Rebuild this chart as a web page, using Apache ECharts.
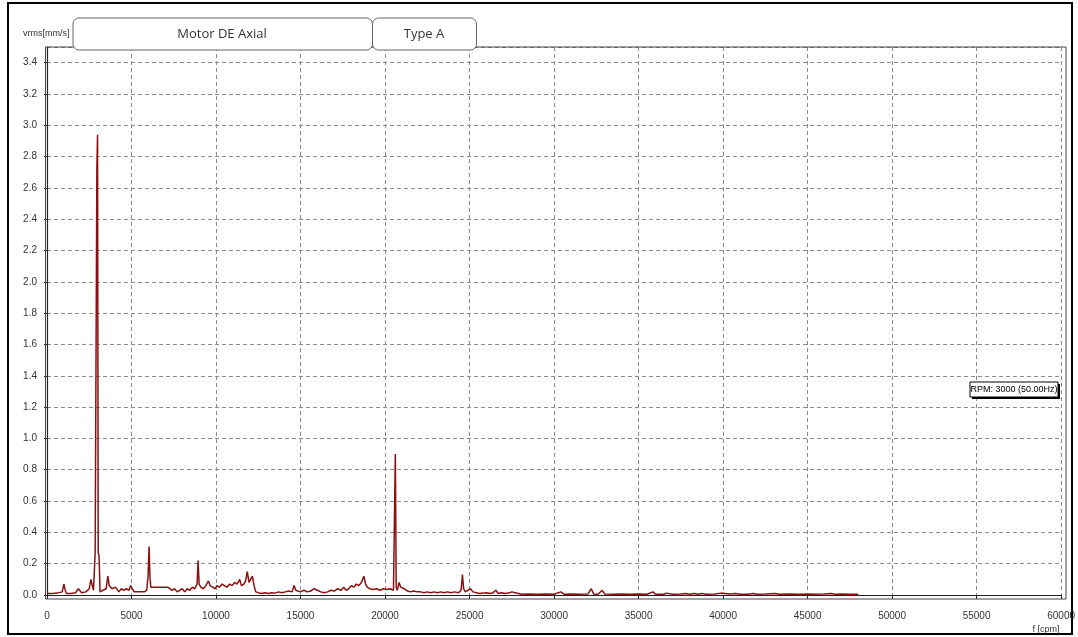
<!DOCTYPE html>
<html>
<head>
<meta charset="utf-8">
<script src="https://cdn.jsdelivr.net/npm/echarts@6/dist/echarts.min.js"></script>
<style>
html,body{margin:0;padding:0;background:#fff;}
#c{width:1078px;height:637px;}
</style>
</head>
<body>
<div id="c"></div>
<script>
// Frequency (cpm) and velocity rms (mm/s)
const freqCpm = [
0,300,600,900,1000,1080,1150,1400,1700,1850,1950,2050,2300,2500,2600,2680,2750,2850,2900,2950,2990,3030,3080,3140,
3300,3500,3600,3680,3750,3850,3950,4050,4150,4250,4400,4550,4700,4850,4950,5050,5150,5350,5550,5750,5900,5980,6040,6090,6140,
6250,6350,6450,6550,6650,6750,6850,6950,7050,7150,7250,7400,7550,7700,7850,8000,8150,8300,8450,8600,8750,8880,8940,9000,
9100,9250,9400,9550,9650,9800,9950,10050,10200,10350,10500,10650,10800,10950,11100,11250,11400,11500,11650,11750,11850,11950,
12050,12150,12250,12350,12500,12700,12900,13100,13300,13500,13700,13900,14100,14300,14500,14620,14720,14850,15000,15200,15400,
15600,15800,16000,16200,16400,16600,16800,17000,17200,17400,17550,17700,17850,18000,18150,18300,18450,18600,18750,18850,18950,
19100,19300,19500,19700,19900,20100,20300,20500,20560,20610,20660,20730,20830,20930,21030,21130,21230,21330,21500,21700,21900,
22100,22300,22500,22700,22900,23100,23300,23500,23700,23900,24100,24350,24500,24580,24650,24750,24900,25050,25200,25400,25600,
25800,26000,26200,26400,26550,26700,26900,27100,27300,27500,27700,27900,28100,28500,29000,29500,30000,30400,30600,31000,31500,
32000,32200,32350,32600,32850,33000,33500,34000,34500,35000,35500,35850,36000,36500,36650,37000,37500,37800,38000,38300,38500,
38750,39000,39500,39900,40100,40400,40750,41000,41500,41800,42000,42500,43100,43300,44000,44500,45000,45500,46000,46400,46600,
47000,47500,48000
];
const ampMms = [
0.010,0.010,0.012,0.020,0.070,0.030,0.010,0.010,0.015,0.040,0.040,0.015,0.020,0.040,0.100,0.060,0.030,0.270,0.270,2.720,2.940,0.270,0.250,0.020,
0.030,0.040,0.120,0.060,0.050,0.040,0.030,0.050,0.040,0.020,0.040,0.030,0.040,0.030,0.060,0.040,0.020,0.020,0.020,0.020,0.030,0.120,0.310,0.120,0.050,
0.040,0.050,0.040,0.050,0.040,0.050,0.040,0.050,0.040,0.050,0.040,0.030,0.040,0.020,0.030,0.040,0.020,0.040,0.030,0.050,0.040,0.070,0.220,0.070,
0.050,0.040,0.060,0.090,0.060,0.050,0.040,0.060,0.050,0.070,0.060,0.050,0.070,0.060,0.080,0.070,0.100,0.060,0.070,0.090,0.150,0.080,
0.070,0.120,0.060,0.020,0.015,0.010,0.015,0.010,0.015,0.012,0.020,0.015,0.020,0.025,0.020,0.060,0.030,0.025,0.020,0.030,0.020,
0.025,0.040,0.030,0.020,0.015,0.020,0.030,0.025,0.040,0.030,0.050,0.030,0.040,0.060,0.050,0.070,0.060,0.080,0.120,0.070,0.050,
0.040,0.035,0.040,0.030,0.040,0.035,0.040,0.030,0.520,0.900,0.050,0.030,0.080,0.050,0.060,0.040,0.030,0.025,0.020,0.025,0.020,
0.020,0.015,0.020,0.015,0.020,0.015,0.020,0.015,0.020,0.015,0.020,0.015,0.030,0.130,0.040,0.020,0.030,0.040,0.020,0.015,0.010,
0.012,0.015,0.010,0.015,0.030,0.010,0.015,0.010,0.012,0.020,0.015,0.010,0.005,0.006,0.005,0.006,0.005,0.020,0.005,0.006,0.005,
0.006,0.040,0.006,0.005,0.030,0.006,0.005,0.006,0.005,0.006,0.005,0.020,0.005,0.005,0.012,0.005,0.006,0.010,0.005,0.010,0.005,
0.010,0.005,0.006,0.012,0.010,0.006,0.010,0.005,0.005,0.010,0.005,0.006,0.010,0.005,0.006,0.005,0.006,0.005,0.006,0.010,0.005,
0.006,0.005,0.005
];
const xTicks = {min: 0, max: 60000, interval: 5000};
const yTicks = {min: 0, max: 3.5, interval: 0.2};
const titleMain = 'Motor DE Axial';
const titleType = 'Type A';
const yName = 'vrms[mm/s]';
const xName = 'f [cpm]';
const rpmNote = 'RPM: 3000 (50.00Hz)';

const seriesData = freqCpm.map((f, i) => [f, ampMms[i]]);
const narrow = "'Liberation Sans Narrow', 'Liberation Sans', Arial, sans-serif";
const chart = echarts.init(document.getElementById('c'), null, {renderer: 'canvas'});
chart.setOption({
  backgroundColor: '#fff',
  animation: false,
  grid: {left: 47, right: 14, top: 47, bottom: 42, show: false},
  xAxis: {
    type: 'value', min: xTicks.min, max: xTicks.max, interval: xTicks.interval,
    offset: 12,
    axisLine: {show: true, lineStyle: {color: '#222', width: 1.2}},
    axisTick: {show: true, length: 4, lineStyle: {color: '#222'}},
    axisLabel: {color: '#333', fontFamily: narrow, fontSize: 10, margin: 4, formatter: v => String(v)},
    splitLine: {show: true, lineStyle: {color: '#8a8a8a', type: [4, 3], width: 1}}
  },
  yAxis: {
    type: 'value', min: yTicks.min, max: yTicks.max, interval: yTicks.interval,
    offset: 7,
    axisLine: {show: true, lineStyle: {color: '#222', width: 1.2}},
    axisTick: {show: true, length: 3, lineStyle: {color: '#222'}},
    axisLabel: {color: '#333', fontFamily: narrow, fontSize: 10, margin: 3, showMaxLabel: false,
      formatter: v => v.toFixed(1)},
    splitLine: {show: true, lineStyle: {color: '#8a8a8a', type: [4, 3], width: 1}}
  },
  series: [{
    type: 'line', data: seriesData, showSymbol: false, symbol: 'none',
    lineStyle: {color: '#8B1010', width: 1.5}, clip: true, z: 5
  }],
  graphic: [
    {type: 'rect', shape: {x: 8, y: 3, width: 1064, height: 631},
     style: {fill: 'none', stroke: '#000', lineWidth: 2}, silent: true},
    {type: 'rect', shape: {x: 45.5, y: 47, width: 1020.5, height: 552},
     style: {fill: 'none', stroke: '#444', lineWidth: 1}, silent: true, z: 10},
    {type: 'text', left: 23, top: 29,
     style: {text: yName, font: "9px " + narrow, fill: '#333'}, z: 11},
    {type: 'rect', shape: {x: 73, y: 18, width: 299.5, height: 32, r: 6},
     style: {fill: '#fff', stroke: '#666', lineWidth: 1}, z: 20},
    {type: 'rect', shape: {x: 372.5, y: 18, width: 104, height: 32, r: 6},
     style: {fill: '#fff', stroke: '#666', lineWidth: 1}, z: 20},
    {type: 'text', x: 222, y: 34, z: 21,
     style: {text: titleMain, font: "13px 'Open Sans', sans-serif", fill: '#333', textAlign: 'center', textVerticalAlign: 'middle'}},
    {type: 'text', x: 424, y: 34, z: 21,
     style: {text: titleType, font: "13px 'Open Sans', sans-serif", fill: '#333', textAlign: 'center', textVerticalAlign: 'middle'}},
    {type: 'rect', shape: {x: 972, y: 384, width: 88, height: 15},
     style: {fill: '#000'}, z: 20},
    {type: 'rect', shape: {x: 970, y: 382, width: 88, height: 15},
     style: {fill: '#fff', stroke: '#000', lineWidth: 1}, z: 21},
    {type: 'text', x: 1014, y: 390, z: 22,
     style: {text: rpmNote, font: "9px " + narrow, fill: '#000', textAlign: 'center', textVerticalAlign: 'middle'}},
    {type: 'text', x: 1046, y: 630, z: 22,
     style: {text: xName, font: "9px " + narrow, fill: '#333', textAlign: 'center', textVerticalAlign: 'middle'}}
  ]
});
</script>
</body>
</html>
